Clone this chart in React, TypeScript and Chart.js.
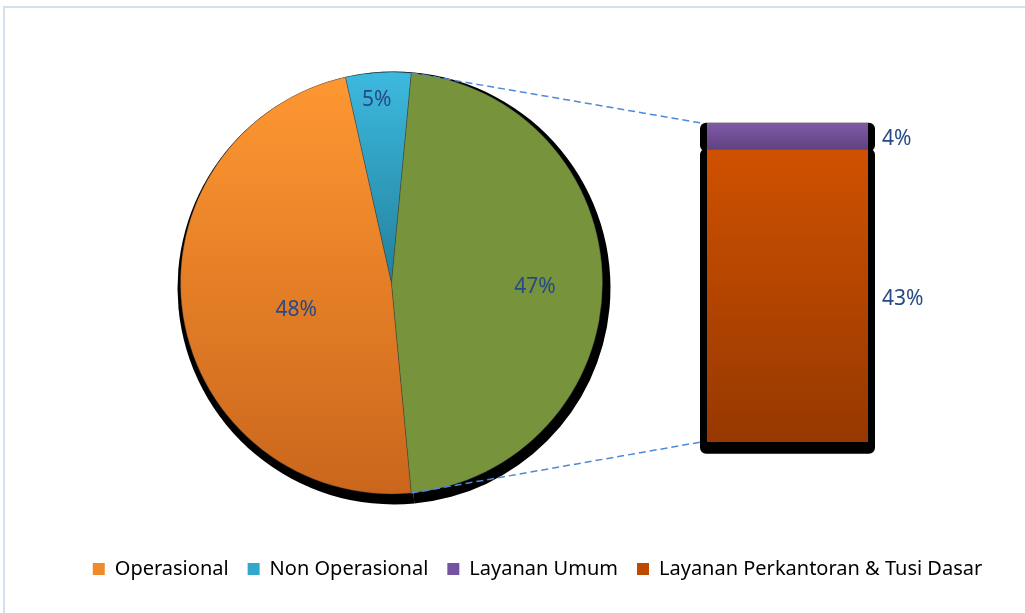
import React, { useEffect, useRef } from 'react';
import { Chart, registerables } from 'chart.js';

Chart.register(...registerables);

// ---------- data ----------
const pieLabels = ['Operasional', 'Non Operasional', 'Lainnya'];
const pieValues = [48, 5, 47];
const barLabels = ['Layanan Umum', 'Layanan Perkantoran & Tusi Dasar'];
const barValues = [4, 43];
const legendLabels = ['Operasional', 'Non Operasional', 'Layanan Umum', 'Layanan Perkantoran & Tusi Dasar'];

// ---------- styles ----------
const W = 1075;
const H = 613;
const FONT = "'Noto Sans', 'Open Sans', sans-serif";
const TEXT_COLOR = '#274A86';
const LEGEND_COLORS = ['#F08A2A', '#33A8CC', '#7453A0', '#BE4A00'];
const PIE_CX = 391.5;
const PIE_CY = 283;
const PIE_R = 211;
const BAR_LEFT = 707;
const BAR_RIGHT = 868;
const BAR_TOP = 123;
const BAR_BOTTOM = 442;
const PIE_LABEL_RADIUS = [0.47, 0.87, 0.68];
const PIE_LABEL_ANGLE = [-7, -1, 1.5];
const LABEL_SIZE = 21;
const LEGEND_SIZE = 20;
const LEGEND_PAD = 19;

const pieTotal = pieValues.reduce((a, b) => a + b, 0);
const otherIndex = pieValues.length - 1;
const beforeOther = pieValues.slice(0, otherIndex).reduce((a, b) => a + b, 0);
const rotation = 90 - ((beforeOther + pieValues[otherIndex] / 2) / pieTotal) * 360;
const barTotal = barValues.reduce((a, b) => a + b, 0);

// legend geometry: itemHeight = LEGEND_SIZE, legend height = size + pad + 10
const LEGEND_TEXT_Y = 569;
const LEGEND_TOP = LEGEND_TEXT_Y - LEGEND_PAD - LEGEND_SIZE / 2;
const LEGEND_HEIGHT = LEGEND_SIZE + LEGEND_PAD + 10;

function pieColor(c: any) {
  const chart = c.chart;
  const area = chart.chartArea;
  const i = c.dataIndex;
  const solid = ['#EE8529', '#33A9CE', '#77933C'];
  if (!area) return solid[i];
  if (i === 0) {
    const g = chart.ctx.createLinearGradient(0, area.top, 0, area.bottom);
    g.addColorStop(0, '#FF9832');
    g.addColorStop(1, '#CA661C');
    return g;
  }
  if (i === 1) {
    const g = chart.ctx.createLinearGradient(0, area.top, 0, (area.top + area.bottom) / 2);
    g.addColorStop(0, '#3DB9DF');
    g.addColorStop(1, '#23819C');
    return g;
  }
  return '#77933C';
}

const barStops = [
  ['#8059A9', '#5F427E'],
  ['#CF5100', '#963800'],
];

function makeBarColor(idx: number) {
  return (c: any) => {
    const chart = c.chart;
    const y = chart.scales && chart.scales.y;
    if (!y || !chart.chartArea) return barStops[idx][0];
    let lower = 0;
    for (let k = barValues.length - 1; k > idx; k--) lower += barValues[k];
    const upper = lower + barValues[idx];
    const g = chart.ctx.createLinearGradient(0, y.getPixelForValue(upper), 0, y.getPixelForValue(lower));
    g.addColorStop(0, barStops[idx][0]);
    g.addColorStop(1, barStops[idx][1]);
    return g;
  };
}

const pieShadowPlugin = {
  id: 'pieShadow',
  beforeDatasetsDraw(chart: any) {
    const ctx = chart.ctx;
    const meta = chart.getDatasetMeta(0);
    ctx.save();
    ctx.fillStyle = '#000';
    meta.data.forEach((a: any) => {
      const p = a.getProps(['x', 'y', 'startAngle', 'endAngle', 'outerRadius'], true);
      const cx = p.x + 2.5;
      const cy = p.y + 5;
      const r = p.outerRadius * 1.026;
      ctx.beginPath();
      ctx.moveTo(cx, cy);
      ctx.arc(cx, cy, r, p.startAngle, p.endAngle);
      ctx.closePath();
      ctx.fill();
    });
    ctx.restore();
  },
};

const pieLabelPlugin = {
  id: 'pieLabels',
  afterDatasetsDraw(chart: any) {
    const ctx = chart.ctx;
    const meta = chart.getDatasetMeta(0);
    ctx.save();
    ctx.font = `${LABEL_SIZE}px ${FONT}`;
    ctx.fillStyle = TEXT_COLOR;
    ctx.textAlign = 'center';
    ctx.textBaseline = 'middle';
    meta.data.forEach((a: any, i: number) => {
      const p = a.getProps(['x', 'y', 'startAngle', 'endAngle', 'outerRadius'], true);
      const mid = (p.startAngle + p.endAngle) / 2 + (PIE_LABEL_ANGLE[i] * Math.PI) / 180;
      const rr = p.outerRadius * PIE_LABEL_RADIUS[i];
      const pct = Math.round((pieValues[i] / pieTotal) * 100) + '%';
      ctx.fillText(pct, p.x + rr * Math.cos(mid), p.y + rr * Math.sin(mid));
    });
    ctx.restore();
  },
};

const barShadowPlugin = {
  id: 'barShadow',
  beforeDatasetsDraw(chart: any) {
    const ctx = chart.ctx;
    ctx.save();
    ctx.fillStyle = '#000';
    chart.data.datasets.forEach((_: any, di: number) => {
      const meta = chart.getDatasetMeta(di);
      meta.data.forEach((b: any) => {
        const p = b.getProps(['x', 'y', 'base', 'width'], true);
        const left = p.x - p.width / 2;
        const top = Math.min(p.y, p.base);
        const h = Math.abs(p.base - p.y);
        ctx.beginPath();
        if (ctx.roundRect) ctx.roundRect(left - 7, top - 0.005 * h, p.width + 14, h * 1.045, 6);
        else ctx.rect(left - 7, top - 0.005 * h, p.width + 14, h * 1.045);
        ctx.fill();
      });
    });
    ctx.restore();
  },
};

const barLabelPlugin = {
  id: 'barLabels',
  afterDatasetsDraw(chart: any) {
    const ctx = chart.ctx;
    ctx.save();
    ctx.font = `${LABEL_SIZE}px ${FONT}`;
    ctx.fillStyle = TEXT_COLOR;
    ctx.textAlign = 'left';
    ctx.textBaseline = 'middle';
    chart.data.datasets.forEach((ds: any, di: number) => {
      const meta = chart.getDatasetMeta(di);
      meta.data.forEach((b: any, j: number) => {
        const p = b.getProps(['x', 'y', 'base', 'width'], true);
        const right = p.x + p.width / 2;
        ctx.fillText(`${ds.data[j]}%`, right + 14, (p.y + p.base) / 2 + 2.5);
      });
    });
    ctx.restore();
  },
};

function makeConnectorPlugin(getPie: () => any) {
  return {
    id: 'connector',
    afterDatasetsDraw(chart: any) {
      const pie = getPie();
      if (!pie) return;
      const arc = pie.getDatasetMeta(0).data[otherIndex];
      if (!arc) return;
      const p = arc.getProps(['x', 'y', 'startAngle', 'endAngle', 'outerRadius'], true);
      const y = chart.scales.y;
      const x = chart.scales.x;
      const barEl = chart.getDatasetMeta(0).data[0];
      const bw = barEl ? barEl.width : x.right - x.left;
      const bx = barEl ? barEl.x - bw / 2 - 6 : x.left;
      const topY = y.getPixelForValue(barTotal);
      const botY = y.getPixelForValue(0);
      const ctx = chart.ctx;
      ctx.save();
      ctx.strokeStyle = '#5089D6';
      ctx.lineWidth = 1.5;
      ctx.setLineDash([7, 4]);
      ctx.beginPath();
      ctx.moveTo(p.x + p.outerRadius * Math.cos(p.startAngle), p.y + p.outerRadius * Math.sin(p.startAngle));
      ctx.lineTo(bx, topY);
      ctx.moveTo(p.x + p.outerRadius * Math.cos(p.endAngle), p.y + p.outerRadius * Math.sin(p.endAngle));
      ctx.lineTo(bx, botY);
      ctx.stroke();
      ctx.restore();
    },
  };
}

export default function App() {
  const pieRef = useRef<HTMLCanvasElement | null>(null);
  const barRef = useRef<HTMLCanvasElement | null>(null);

  useEffect(() => {
    if (!pieRef.current || !barRef.current) return;
    const pie = new Chart(pieRef.current, {
      type: 'pie',
      data: {
        labels: pieLabels,
        datasets: [
          {
            data: pieValues,
            backgroundColor: pieColor as any,
            borderColor: 'rgba(60,60,60,0.45)',
            borderWidth: 0.8,
            radius: PIE_R,
          } as any,
        ],
      },
      options: {
        responsive: false,
        animation: false,
        rotation,
        layout: {
          padding: {
            left: PIE_CX - PIE_R,
            right: W - (PIE_CX + PIE_R),
            top: PIE_CY - PIE_R,
            bottom: H - (PIE_CY + PIE_R),
          },
        },
        plugins: { legend: { display: false }, tooltip: { enabled: false } },
      } as any,
      plugins: [pieShadowPlugin, pieLabelPlugin],
    });

    const datasets = barLabels
      .map((label, i) => ({
        label,
        data: [barValues[i]],
        backgroundColor: makeBarColor(i) as any,
        borderWidth: 0,
        barPercentage: 1,
        categoryPercentage: 1,
      }))
      .reverse();

    const bar = new Chart(barRef.current, {
      type: 'bar',
      data: { labels: [''], datasets },
      options: {
        responsive: false,
        animation: false,
        layout: {
          padding: { top: BAR_TOP, bottom: H - LEGEND_TOP - LEGEND_HEIGHT, left: 0, right: 0 },
        },
        scales: {
          x: {
            stacked: true,
            grid: { display: false },
            ticks: { display: false },
            border: { display: false },
            afterFit: (s: any) => {
              s.height = LEGEND_TOP - BAR_BOTTOM;
            },
          },
          y: {
            stacked: true,
            min: 0,
            max: barTotal,
            position: 'left',
            grid: { display: false },
            ticks: { display: false },
            border: { display: false },
            afterFit: (s: any) => {
              s.width = BAR_LEFT;
            },
          },
          yRight: {
            type: 'linear',
            position: 'right',
            grid: { display: false },
            ticks: { display: false },
            border: { display: false },
            afterFit: (s: any) => {
              s.width = W - BAR_RIGHT;
            },
          },
        },
        plugins: {
          tooltip: { enabled: false },
          legend: {
            position: 'bottom',
            onClick: () => {},
            labels: {
              boxWidth: 12,
              boxHeight: 12,
              padding: LEGEND_PAD,
              color: TEXT_COLOR,
              font: { family: FONT, size: LEGEND_SIZE },
              generateLabels: () =>
                legendLabels.map((text, i) => ({
                  text,
                  fillStyle: LEGEND_COLORS[i],
                  strokeStyle: LEGEND_COLORS[i],
                  lineWidth: 0,
                  hidden: false,
                  index: i,
                })),
            },
          },
        },
      } as any,
      plugins: [barShadowPlugin, barLabelPlugin, makeConnectorPlugin(() => pie)],
    });

    return () => {
      bar.destroy();
      pie.destroy();
    };
  }, []);

  return (
    <div
      style={{
        position: 'fixed',
        left: 0,
        top: 0,
        width: 1025,
        height: 613,
        overflow: 'hidden',
        background: '#fff',
      }}
    >
      <div
        style={{
          position: 'absolute',
          left: 3,
          top: 6,
          width: 1200,
          height: 800,
          border: '2px solid #D5E0EF',
        }}
      />
      <canvas ref={pieRef} width={W} height={H} style={{ position: 'absolute', left: 0, top: 0 }} />
      <canvas ref={barRef} width={W} height={H} style={{ position: 'absolute', left: 0, top: 0 }} />
    </div>
  );
}
